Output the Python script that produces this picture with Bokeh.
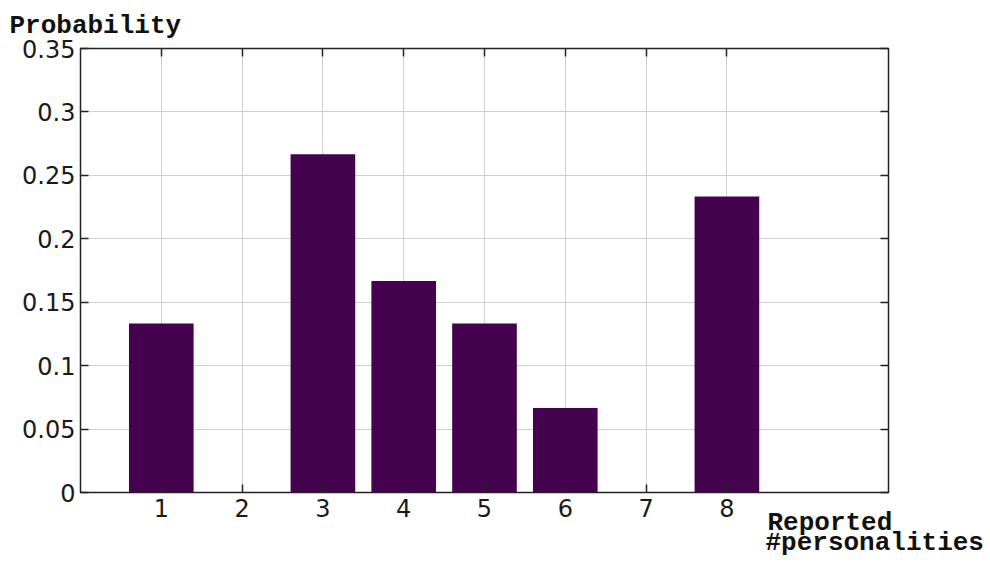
from bokeh.plotting import figure
from bokeh.models import ColumnDataSource, Range1d, LinearAxis, FixedTicker, Title
from bokeh.embed import file_html
from bokeh.resources import INLINE

personalities = [1, 2, 3, 4, 5, 6, 7, 8]
probability = [0.1333, 0.0, 0.2667, 0.1667, 0.1333, 0.0667, 0.0, 0.2333]
y_ticks = [0, 0.05, 0.1, 0.15, 0.2, 0.25, 0.3, 0.35]
y_tick_labels = ["0", "0.05", "0.1", "0.15", "0.2", "0.25", "0.3", "0.35"]
x_label_lines = ["Reported", "#personalities"]
y_label = "Probability"

src = ColumnDataSource(dict(x=personalities, top=probability))

p = figure(width=990, height=562, output_backend="svg", toolbar_location=None,
           x_range=Range1d(0, 10), y_range=Range1d(0, 0.35),
           frame_width=808, frame_height=444, title_location=None,
           min_border_left=80, min_border_right=102, min_border_top=48, min_border_bottom=70,
           x_axis_location=None, y_axis_location=None)
p.background_fill_color = "white"
p.border_fill_color = "white"
p.outline_line_color = "#222222"
p.outline_line_width = 1.5

p.vbar(x="x", top="top", width=0.8, bottom=0, source=src,
       fill_color="#45024f", line_color=None)

xt = FixedTicker(ticks=personalities)
yt = FixedTicker(ticks=y_ticks)
overrides = {t: s for t, s in zip(y_ticks, y_tick_labels)}

def style(ax):
    ax.axis_line_color = None
    ax.major_tick_in = 8
    ax.major_tick_out = 0
    ax.major_tick_line_color = "#222222"
    ax.major_tick_line_width = 1.5
    ax.minor_tick_line_color = None
    ax.major_label_text_font = "DejaVu Sans"
    ax.major_label_text_font_size = "24px"
    ax.major_label_text_color = "#1a1a1a"

lab = dict(text_font="Liberation Mono", text_font_style="bold", text_font_size="26px",
           text_color="#111111")

bx = LinearAxis(ticker=xt)
style(bx)
bx.major_label_standoff = 6
p.add_layout(bx, "below")

lx = LinearAxis(ticker=yt, major_label_overrides=overrides)
style(lx)
lx.major_label_standoff = 5
p.add_layout(lx, "left")

tx = LinearAxis(ticker=xt, major_label_overrides={t: "" for t in personalities})
style(tx)
tx.major_label_standoff = 0
p.add_layout(tx, "above")

rx = LinearAxis(ticker=yt, major_label_overrides={t: "" for t in y_ticks})
style(rx)
rx.major_label_standoff = 0
p.add_layout(rx, "right")

p.xgrid.ticker = xt
p.ygrid.ticker = yt
for g in (p.xgrid, p.ygrid):
    g.grid_line_color = "#d0d0d0"
    g.grid_line_width = 1

p.add_layout(Title(text=y_label, offset=-71, standoff=15, align="left", **lab), "above")
p.add_layout(Title(text=x_label_lines[0], offset=687, standoff=-28, align="left", **lab), "below")
p.add_layout(Title(text=x_label_lines[1], offset=685, standoff=4, align="left", **lab), "below")

open("out.html", "w").write(file_html(p, INLINE))
